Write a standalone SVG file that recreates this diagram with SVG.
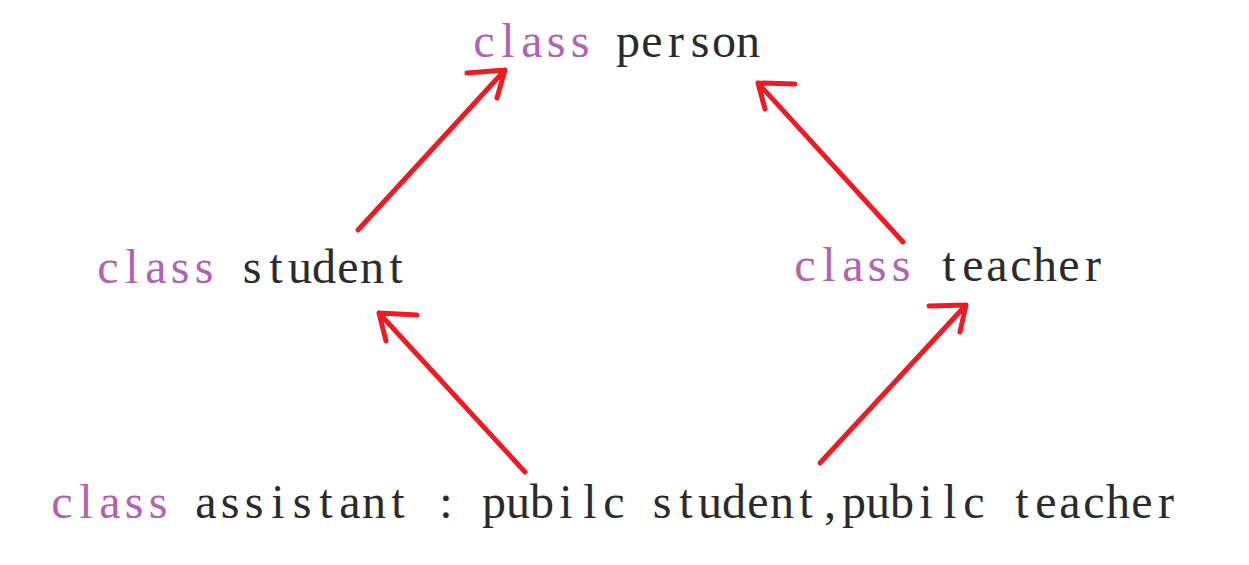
<svg xmlns="http://www.w3.org/2000/svg" width="1249" height="565" viewBox="0 0 1249 565">
<style>
text{font-family:"Liberation Serif","Times New Roman",serif;font-size:48px;fill:#2b2b2b}
.kw{fill:#b262b2}
.conn path{fill:none;stroke:#ed1c24;stroke-width:5;stroke-linecap:round;stroke-linejoin:round}
</style>
<rect width="1249" height="565" fill="#fff"/>
<g id="person"><text y="57"><tspan class="kw" x="473.3 501.3 521.3 546.7 570.7">class</tspan><tspan x="616 641.3 668 690.7 712 736">person</tspan></text></g>
<g id="student"><text y="283"><tspan class="kw" x="97.3 125.3 145.3 170.7 194.7">class</tspan><tspan x="242.7 269.3 288 312 337.3 360 389.3">student</tspan></text></g>
<g id="teacher"><text y="281"><tspan class="kw" x="794.3 822.3 842.3 867.7 891.7">class</tspan><tspan x="942.3 962.3 986.3 1010.3 1033 1058.3 1085">teacher</tspan></text></g>
<g id="assistant"><text y="518"><tspan class="kw" x="51.3 79.3 99.3 124.7 148.7">class</tspan><tspan x="195.3 220.7 244.7 271.3 292.7 319.3 339.3 362 391.3 410 439.3 458 482 506 530 559.3 583.3 603.3 626 652.7 679.3 698 722 747.3 770 799.3 824 842 866 890 919.3 943.3 963.3 986 1015.3 1035.3 1059.3 1083.3 1106 1131.3 1158">assistant : pubilc student,pubilc teacher</tspan></text></g>
<g class="conn" id="connectors">
<path d="M358 230L505 70M467 73L505 70L497 98"/>
<path d="M903 242L758 83M795 84L758 83L765 109"/>
<path d="M525 472L379 313M417 315L379 313L386 341"/>
<path d="M820 463L966 305M929 306L966 305L960 332"/>
</g>
</svg>
